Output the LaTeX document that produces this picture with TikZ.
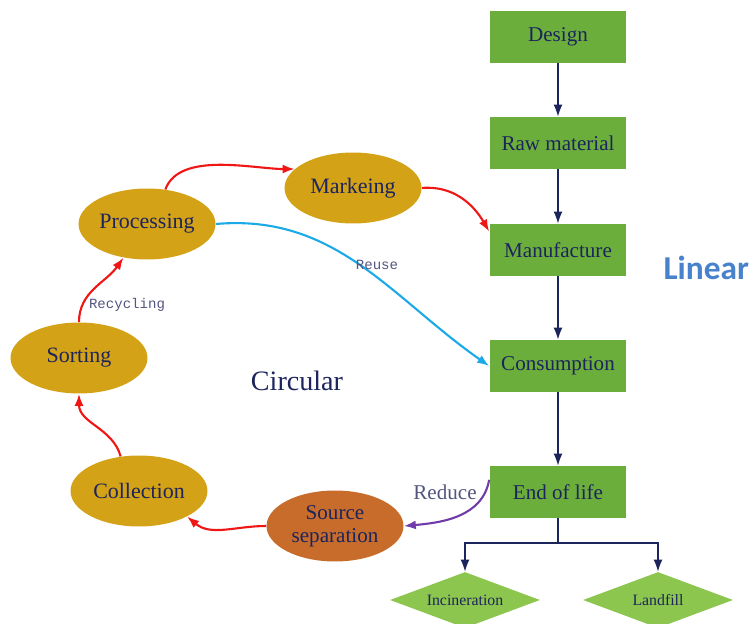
\documentclass[tikz,border=0pt]{standalone}
\usepackage{fontspec}
\setmainfont{Liberation Serif}
\setmonofont{Liberation Mono}
\newfontfamily\calibrifont{Carlito}
\usetikzlibrary{arrows.meta, positioning, shapes.geometric}
\definecolor{boxgreen}{RGB}{108,174,60}
\definecolor{leafgreen}{RGB}{140,198,78}
\definecolor{loopgold}{RGB}{212,162,22}
\definecolor{sepbrown}{RGB}{200,108,44}
\definecolor{textnavy}{RGB}{28,36,92}
\definecolor{flowred}{RGB}{240,22,22}
\definecolor{reusecyan}{RGB}{28,170,230}
\definecolor{reducepurple}{RGB}{112,60,170}
\definecolor{linearblue}{RGB}{72,130,204}
\definecolor{labelgray}{RGB}{84,84,128}

\begin{document}
\begin{tikzpicture}[x=0.02cm, y=0.02cm, >={Latex[length=2.4mm,width=1.8mm]},
    stage/.style={rectangle, fill=boxgreen, text=textnavy, minimum width=2.74cm, minimum height=1.04cm, font=\fontsize{12}{14}\selectfont},
    outcome/.style={diamond, fill=leafgreen, text=textnavy, aspect=2.7, inner sep=1pt, minimum width=3cm, minimum height=1.12cm, font=\fontsize{9}{11}\selectfont},
    loopnode/.style={ellipse, fill=loopgold, text=textnavy, inner sep=0pt, minimum width=2.74cm, minimum height=1.42cm, font=\fontsize{12.5}{14}\selectfont},
    linflow/.style={->, draw=textnavy, line width=0.9pt},
    loopflow/.style={->, draw=flowred, line width=1.2pt}]
        \useasboundingbox (0,0) rectangle (751,-624);

        % linear chain
        \node[stage] at (558,-37) (design) {Design};
        \node[stage] at (558,-143) (raw) {Raw material};
        \node[stage] at (558,-250) (manu) {Manufacture};
        \node[stage] at (558,-366) (cons) {Consumption};
        \node[stage] at (558,-492) (eol) {End of life};
        \draw[linflow] (design) -- (raw);
        \draw[linflow] (raw) -- (manu);
        \draw[linflow] (manu) -- (cons);
        \draw[linflow] (cons) -- (eol);

        \node[outcome] at (465,-600) (incin) {Incineration};
        \node[outcome] at (658,-600) (landfill) {Landfill};
        \coordinate (fork) at (558,-543);
        \draw[line width=0.9pt, textnavy] (eol) -- (fork);
        \draw[linflow] (fork) -| (incin);
        \draw[linflow] (fork) -| (landfill);

        % circular loop
        \node[loopnode] at (147,-224) (proc) {Processing};
        \node[loopnode] at (353,-188) (mark) {Markeing};
        \node[loopnode] at (79,-358) (sort) {Sorting};
        \node[loopnode] at (139,-491) (coll) {Collection};
        \node[loopnode, fill=sepbrown, align=center, font=\fontsize{12}{13}\selectfont] at (335,-526) (srcsep) {Source\\separation};

        \draw[loopflow] (proc.62) to[out=70, in=180, looseness=0.8] (mark.162);
        \draw[loopflow] (mark.east) to[out=5, in=120] (manu.165);
        \draw[loopflow] (sort.north) to[out=90, in=235] (proc.235);
        \draw[loopflow] (coll.118) to[out=105, in=-90] (sort.south);
        \draw[loopflow] (srcsep.west) to[out=180, in=-40] (coll.-28);
        \draw[->, reusecyan, line width=1.2pt] (proc.east) to[out=5, in=145] (cons.west);
        \draw[->, reducepurple, line width=1.2pt] (eol.170) to[out=-100, in=5] (srcsep.east);

        % labels
        \node[font=\ttfamily\fontsize{8}{10}\selectfont, text=labelgray] at (127,-305) (recyc) {Recycling};
        \node[font=\ttfamily\fontsize{8}{10}\selectfont, text=labelgray] at (377,-265) (reuse) {Reuse};
        \node[font=\fontsize{12}{14}\selectfont, text=labelgray] at (445,-492) (reduce) {Reduce};
        \node[font=\fontsize{16}{18}\selectfont, text=textnavy] at (297,-381) (circ) {Circular};
        \node[font=\calibrifont\bfseries\fontsize{19}{22}\selectfont, text=linearblue, anchor=east, inner sep=1pt] at (751,-268) (lin) {Linear};
\end{tikzpicture}
\end{document}
